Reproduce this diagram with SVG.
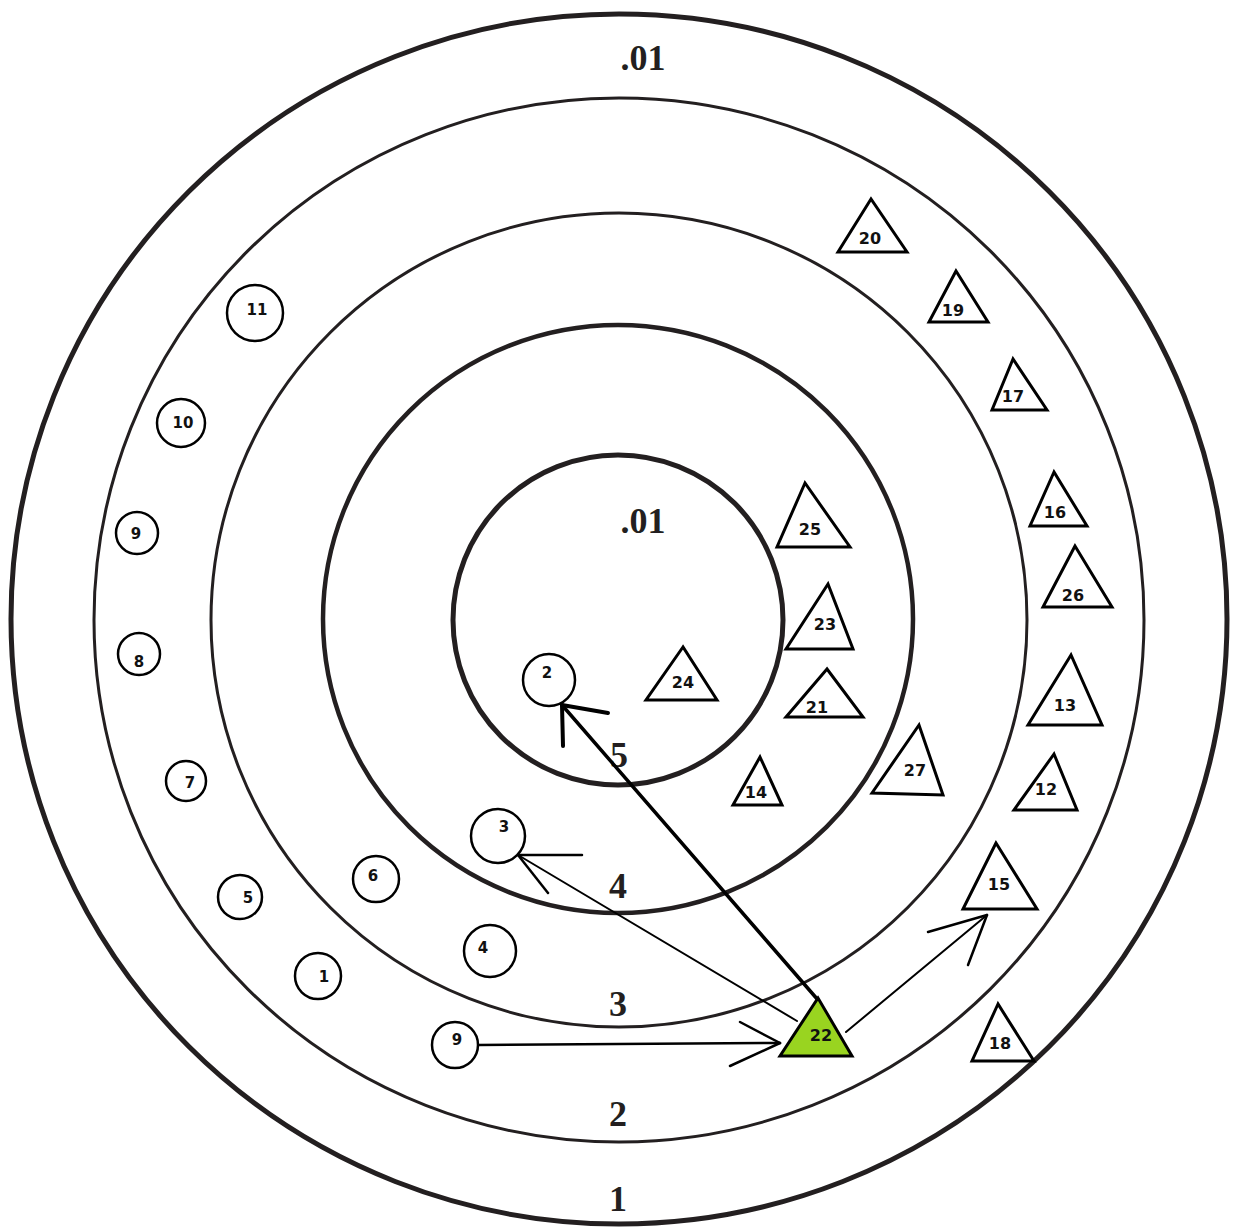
<svg xmlns="http://www.w3.org/2000/svg" width="1236" height="1227" viewBox="0 0 1236 1227">
<style>
.ring{fill:none;stroke:#231f20}
.rl{font-family:"Liberation Serif",serif;font-weight:bold;font-size:36px;fill:#231f20;text-anchor:middle}
.c circle{fill:#fff;stroke:#000;stroke-width:2.5}
.t polygon{fill:#fff;stroke:#000;stroke-width:3;stroke-linejoin:miter}
.lb{font-family:"DejaVu Sans",Verdana,sans-serif;font-weight:bold;font-size:15px;fill:#111;text-anchor:middle}
.tl{font-family:"DejaVu Sans",Verdana,sans-serif;font-weight:bold;font-size:16px;fill:#111;text-anchor:middle}
.cn line{stroke:#000;stroke-linecap:round;fill:none}
</style>
<rect width="1236" height="1227" fill="#fff"/>
<g id="rings">
<ellipse class="ring" cx="619" cy="619" rx="608" ry="605" stroke-width="5"/>
<ellipse class="ring" cx="619" cy="620" rx="525" ry="522" stroke-width="3"/>
<ellipse class="ring" cx="619" cy="620" rx="408" ry="407" stroke-width="3"/>
<ellipse class="ring" cx="618" cy="619" rx="295" ry="294" stroke-width="4.5"/>
<ellipse class="ring" cx="618" cy="620" rx="165" ry="165" stroke-width="5"/>
</g>
<g id="ring-labels">
<text class="rl" x="643" y="70">.01</text>
<text class="rl" x="643" y="533">.01</text>
<text class="rl" x="619" y="767">5</text>
<text class="rl" x="618" y="898">4</text>
<text class="rl" x="618" y="1016">3</text>
<text class="rl" x="618" y="1126">2</text>
<text class="rl" x="618" y="1211">1</text>
</g>
<g id="connectors" class="cn">
<line x1="818" y1="1000" x2="562" y2="705" stroke-width="3.5"/>
<line x1="562" y1="705" x2="608" y2="713" stroke-width="4"/>
<line x1="562" y1="705" x2="563" y2="746" stroke-width="4"/>
<line x1="797" y1="1021" x2="518" y2="855" stroke-width="2"/>
<line x1="518" y1="855" x2="582" y2="855" stroke-width="2.5"/>
<line x1="518" y1="855" x2="548" y2="893" stroke-width="2.5"/>
<line x1="478" y1="1045" x2="780" y2="1043" stroke-width="2.5"/>
<line x1="780" y1="1043" x2="740" y2="1022" stroke-width="2.5"/>
<line x1="780" y1="1043" x2="730" y2="1066" stroke-width="2.5"/>
<line x1="846" y1="1032" x2="987" y2="915" stroke-width="2"/>
<line x1="987" y1="915" x2="928" y2="932" stroke-width="2.5"/>
<line x1="987" y1="915" x2="968" y2="965" stroke-width="2.5"/>
</g>
<g id="n11" class="c"><circle cx="255" cy="313" r="28"/><text class="lb" x="257" y="315">11</text></g>
<g id="n10" class="c"><circle cx="181" cy="423" r="24"/><text class="lb" x="183" y="428">10</text></g>
<g id="n9a" class="c"><circle cx="137" cy="533" r="21"/><text class="lb" x="136" y="539">9</text></g>
<g id="n8" class="c"><circle cx="139" cy="654" r="21"/><text class="lb" x="139" y="667">8</text></g>
<g id="n7" class="c"><circle cx="186" cy="781" r="20"/><text class="lb" x="190" y="788">7</text></g>
<g id="n5" class="c"><circle cx="240" cy="897" r="22"/><text class="lb" x="248" y="903">5</text></g>
<g id="n6" class="c"><circle cx="376" cy="879" r="23"/><text class="lb" x="373" y="881">6</text></g>
<g id="n1" class="c"><circle cx="318" cy="976" r="23"/><text class="lb" x="324" y="982">1</text></g>
<g id="n4" class="c"><circle cx="490" cy="951" r="26"/><text class="lb" x="483" y="953">4</text></g>
<g id="n3" class="c"><circle cx="498" cy="836" r="27"/><text class="lb" x="504" y="832">3</text></g>
<g id="n9b" class="c"><circle cx="455" cy="1045" r="23"/><text class="lb" x="457" y="1045">9</text></g>
<g id="n2" class="c"><circle cx="549" cy="680" r="26"/><text class="lb" x="547" y="678">2</text></g>
<g id="t20" class="t"><polygon points="871,199 838,252 907,252"/><text class="tl" x="870" y="244">20</text></g>
<g id="t19" class="t"><polygon points="956,271 929,322 988,322"/><text class="tl" x="953" y="316">19</text></g>
<g id="t17" class="t"><polygon points="1013,359 992,410 1047,410"/><text class="tl" x="1013" y="402">17</text></g>
<g id="t16" class="t"><polygon points="1054,472 1030,526 1087,526"/><text class="tl" x="1055" y="518">16</text></g>
<g id="t26" class="t"><polygon points="1075,546 1043,607 1112,607"/><text class="tl" x="1073" y="601">26</text></g>
<g id="t13" class="t"><polygon points="1071,655 1028,725 1102,725"/><text class="tl" x="1065" y="711">13</text></g>
<g id="t12" class="t"><polygon points="1054,754 1014,810 1077,810"/><text class="tl" x="1046" y="795">12</text></g>
<g id="t15" class="t"><polygon points="996,843 963,909 1037,909"/><text class="tl" x="999" y="890">15</text></g>
<g id="t18" class="t"><polygon points="998,1004 972,1061 1034,1061"/><text class="tl" x="1000" y="1049">18</text></g>
<g id="t25" class="t"><polygon points="805,483 777,547 850,547"/><text class="tl" x="810" y="535">25</text></g>
<g id="t23" class="t"><polygon points="828,584 786,649 853,649"/><text class="tl" x="825" y="630">23</text></g>
<g id="t21" class="t"><polygon points="827,669 786,717 863,717"/><text class="tl" x="817" y="713">21</text></g>
<g id="t27" class="t"><polygon points="919,725 872,793 943,795"/><text class="tl" x="915" y="776">27</text></g>
<g id="t14" class="t"><polygon points="760,757 733,805 782,805"/><text class="tl" x="756" y="798">14</text></g>
<g id="t24" class="t"><polygon points="683,647 646,700 717,700"/><text class="tl" x="683" y="688">24</text></g>
<g id="t22" class="t"><polygon points="818,998 780,1056 852,1056" style="fill:#99d420"/><text class="tl" x="821" y="1041">22</text></g>
</svg>
